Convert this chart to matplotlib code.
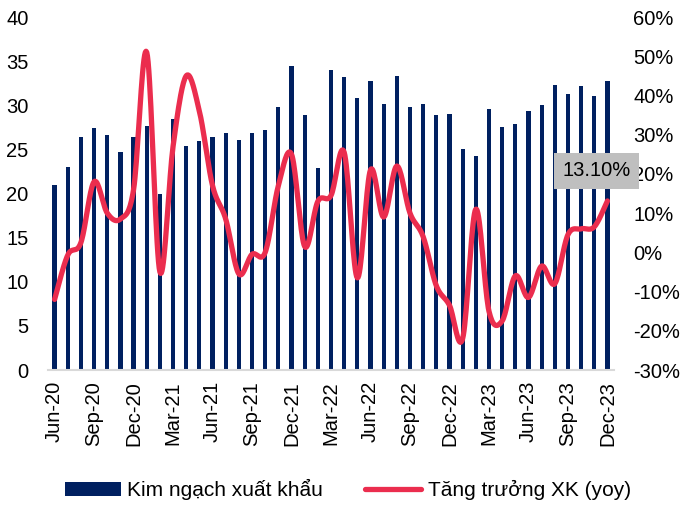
import numpy as np
import matplotlib.pyplot as plt
from matplotlib.ticker import FuncFormatter

plt.rcParams['font.family'] = ['Liberation Sans', 'DejaVu Sans']
plt.rcParams['font.size'] = 14.5

# Dữ liệu theo tháng: Jun-20 .. Dec-23
months = ['Jun-20', 'Jul-20', 'Aug-20', 'Sep-20', 'Oct-20', 'Nov-20', 'Dec-20',
          'Jan-21', 'Feb-21', 'Mar-21', 'Apr-21', 'May-21', 'Jun-21', 'Jul-21',
          'Aug-21', 'Sep-21', 'Oct-21', 'Nov-21', 'Dec-21', 'Jan-22', 'Feb-22',
          'Mar-22', 'Apr-22', 'May-22', 'Jun-22', 'Jul-22', 'Aug-22', 'Sep-22',
          'Oct-22', 'Nov-22', 'Dec-22', 'Jan-23', 'Feb-23', 'Mar-23', 'Apr-23',
          'May-23', 'Jun-23', 'Jul-23', 'Aug-23', 'Sep-23', 'Oct-23', 'Nov-23',
          'Dec-23']

# Kim ngạch xuất khẩu (tỷ USD)
export_value = [21.0, 23.0, 26.4, 27.4, 26.6, 24.7, 26.4,
                27.6, 19.9, 28.5, 25.4, 25.9, 26.4, 26.9,
                26.1, 26.9, 27.2, 29.8, 34.4, 28.9, 22.9,
                34.0, 33.2, 30.8, 32.7, 30.2, 33.3, 29.8,
                30.2, 28.9, 29.0, 25.0, 24.3, 29.6, 27.5,
                27.9, 29.3, 30.0, 32.3, 31.3, 32.2, 31.0,
                32.8]

# Tăng trưởng XK (yoy), %
growth = [-12.0, -0.7, 2.5, 18.0, 10.0, 8.5, 16.0,
          51.0, -5.0, 27.0, 45.0, 36.0, 17.0, 8.5,
          -5.5, -0.5, 0.0, 17.0, 25.0, 1.5, 13.0,
          14.5, 25.5, -6.5, 21.0, 9.0, 22.0, 10.0,
          4.0, -8.5, -13.5, -22.0, 11.0, -15.0, -17.5,
          -6.0, -11.5, -3.5, -8.0, 4.5, 6.0, 6.5,
          13.1]

navy = '#002060'
red = '#EB2D4E'


def smooth(xs, ys, n=20):
    # đường cong mượt kiểu Excel (Bezier, hệ số 1/6)
    xs = np.asarray(xs, float)
    ys = np.asarray(ys, float)
    px = np.concatenate([[xs[0]], xs, [xs[-1]]])
    py = np.concatenate([[ys[0]], ys, [ys[-1]]])
    t = np.linspace(0, 1, n)
    out_x, out_y = [], []
    for i in range(1, len(px) - 2):
        p0 = np.array([px[i], py[i]])
        p3 = np.array([px[i + 1], py[i + 1]])
        c1 = p0 + (np.array([px[i + 1], py[i + 1]]) - np.array([px[i - 1], py[i - 1]])) / 6
        c2 = p3 - (np.array([px[i + 2], py[i + 2]]) - np.array([px[i], py[i]])) / 6
        pts = ((1 - t) ** 3)[:, None] * p0 + (3 * (1 - t) ** 2 * t)[:, None] * c1 \
            + (3 * (1 - t) * t ** 2)[:, None] * c2 + (t ** 3)[:, None] * p3
        out_x.extend(pts[:, 0])
        out_y.extend(pts[:, 1])
    return np.array(out_x), np.array(out_y)


x = np.arange(len(months))

fig = plt.figure(figsize=(6.82, 5.05), dpi=100)
ax = fig.add_axes([0.0704, 0.2673, 0.8299, 0.699])
ax.bar(x, export_value, width=0.32, color=navy, label='Kim ngạch xuất khẩu', zorder=2)
ax.set_xlim(-0.5, len(months) - 0.5)
ax.set_ylim(0, 40)
ax.set_yticks(range(0, 41, 5))
ax.set_xticks(x[::3])
ax.set_xticklabels(months[::3], rotation=90)
ax.tick_params(axis='both', length=0)
ax.tick_params(axis='y', pad=14)
ax.tick_params(axis='x', pad=8)
for s in ['top', 'left', 'right']:
    ax.spines[s].set_visible(False)
ax.spines['bottom'].set_color('#d9d9d9')
ax.spines['bottom'].set_linewidth(1.5)

ax2 = ax.twinx()
sx, sy = smooth(x, np.array(growth) / 100)
ax2.plot(sx, sy, color=red, linewidth=3.8, solid_capstyle='round',
         label='Tăng trưởng XK (yoy)')
ax2.set_ylim(-0.30, 0.60)
ax2.set_yticks(np.arange(-0.3, 0.61, 0.1))
ax2.yaxis.set_major_formatter(FuncFormatter(lambda v, p: f'{v * 100:.0f}%'))
ax2.tick_params(axis='y', length=0, pad=14)
for s in ['top', 'left', 'right', 'bottom']:
    ax2.spines[s].set_visible(False)

ax2.annotate(f'{growth[-1]:.2f}%', xy=(x[-1], growth[-1] / 100),
             xytext=(-11, 30), textcoords='offset pixels',
             ha='center', va='center', fontsize=14.5, zorder=2.4,
             bbox=dict(boxstyle='square,pad=0.4', facecolor='#bfbfbf', edgecolor='none'))

h1, l1 = ax.get_legend_handles_labels()
h2, l2 = ax2.get_legend_handles_labels()
fig.legend(h1 + h2, l1 + l2, loc='center', bbox_to_anchor=(0.51, 0.03), ncol=2,
           frameon=False, handlelength=2.7, handleheight=0.6, columnspacing=2.0,
           handletextpad=0.3, fontsize=15)

fig.savefig('out.png', dpi=100)
